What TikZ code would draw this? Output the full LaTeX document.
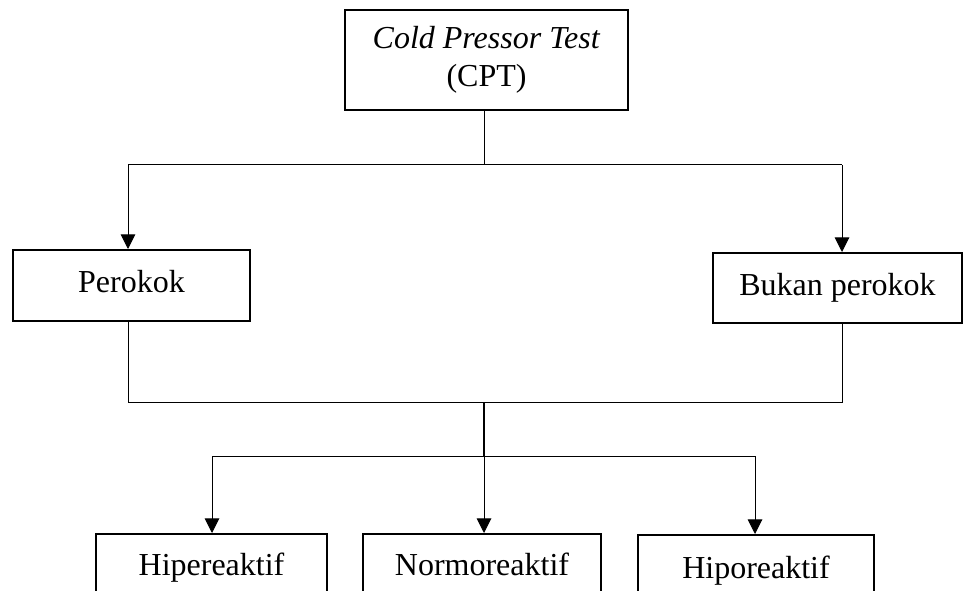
\documentclass[tikz,border=0pt]{standalone}
\usepackage{fontspec}
\setmainfont{Liberation Serif}
\usepackage{tikz}
\usetikzlibrary{arrows.meta, positioning}

\begin{document}
\begin{tikzpicture}[x=0.75pt, y=-0.75pt,
  box/.style={draw, line width=1.5pt, align=center, inner sep=0pt,
    font=\fontsize{24}{28.5}\selectfont},
  onebox/.style={box, text height=17pt, text depth=6pt},
  arrow/.style={line width=0.75pt, -{Triangle[width=11pt,length=11pt]}},
  link/.style={line width=0.75pt}]
  \useasboundingbox (0, 0) rectangle (963, 591);
  \clip (0, 0) rectangle (963, 591);
  % boxes (sizes in pt)
  \node[box, minimum width=212.25pt, minimum height=75pt] (cpt) at (486.5, 60) {\textit{Cold Pressor Test}\\(CPT)};
  \node[onebox, minimum width=177.75pt, minimum height=53.25pt] (perokok) at (131.5, 285.5) {Perokok};
  \node[onebox, minimum width=186.75pt, minimum height=52.5pt] (bukan) at (837.5, 288) {Bukan perokok};
  \node[onebox, anchor=north, minimum width=173.25pt, minimum height=50.5pt] (hiper) at (211.5, 533) {Hipereaktif};
  \node[onebox, anchor=north, minimum width=178.5pt, minimum height=50.5pt] (normo) at (482, 533) {Normoreaktif};
  \node[onebox, anchor=north, minimum width=177pt, minimum height=53.5pt] (hipo) at (756, 534) {Hiporeaktif};
  % first split
  \coordinate (split) at (484, 165);
  \coordinate (pl) at (128, 165);
  \coordinate (pr) at (842, 165);
  \draw[link] (split |- cpt.south) -- (split);
  \draw[link] (pl) -- (pr);
  \draw[arrow] (pl) -- (pl |- perokok.north);
  \draw[arrow] (pr) -- (pr |- bukan.north);
  % join
  \coordinate (jl) at (128, 402);
  \coordinate (jr) at (842, 402);
  \draw[link] (jl |- perokok.south) -- (jl) -- (jr) -- (jr |- bukan.south);
  \coordinate (mid) at (484, 402);
  \coordinate (mid2) at (484, 456);
  \draw[line width=1.5pt] (mid) -- (mid2);
  % second split
  \coordinate (bl) at (212, 456);
  \coordinate (br) at (755, 456);
  \draw[link] (bl) -- (br);
  \draw[arrow] (bl) -- (bl |- hiper.north);
  \draw[arrow] (mid2) -- (mid2 |- normo.north);
  \draw[arrow] (br) -- (br |- hipo.north);
\end{tikzpicture}
\end{document}
